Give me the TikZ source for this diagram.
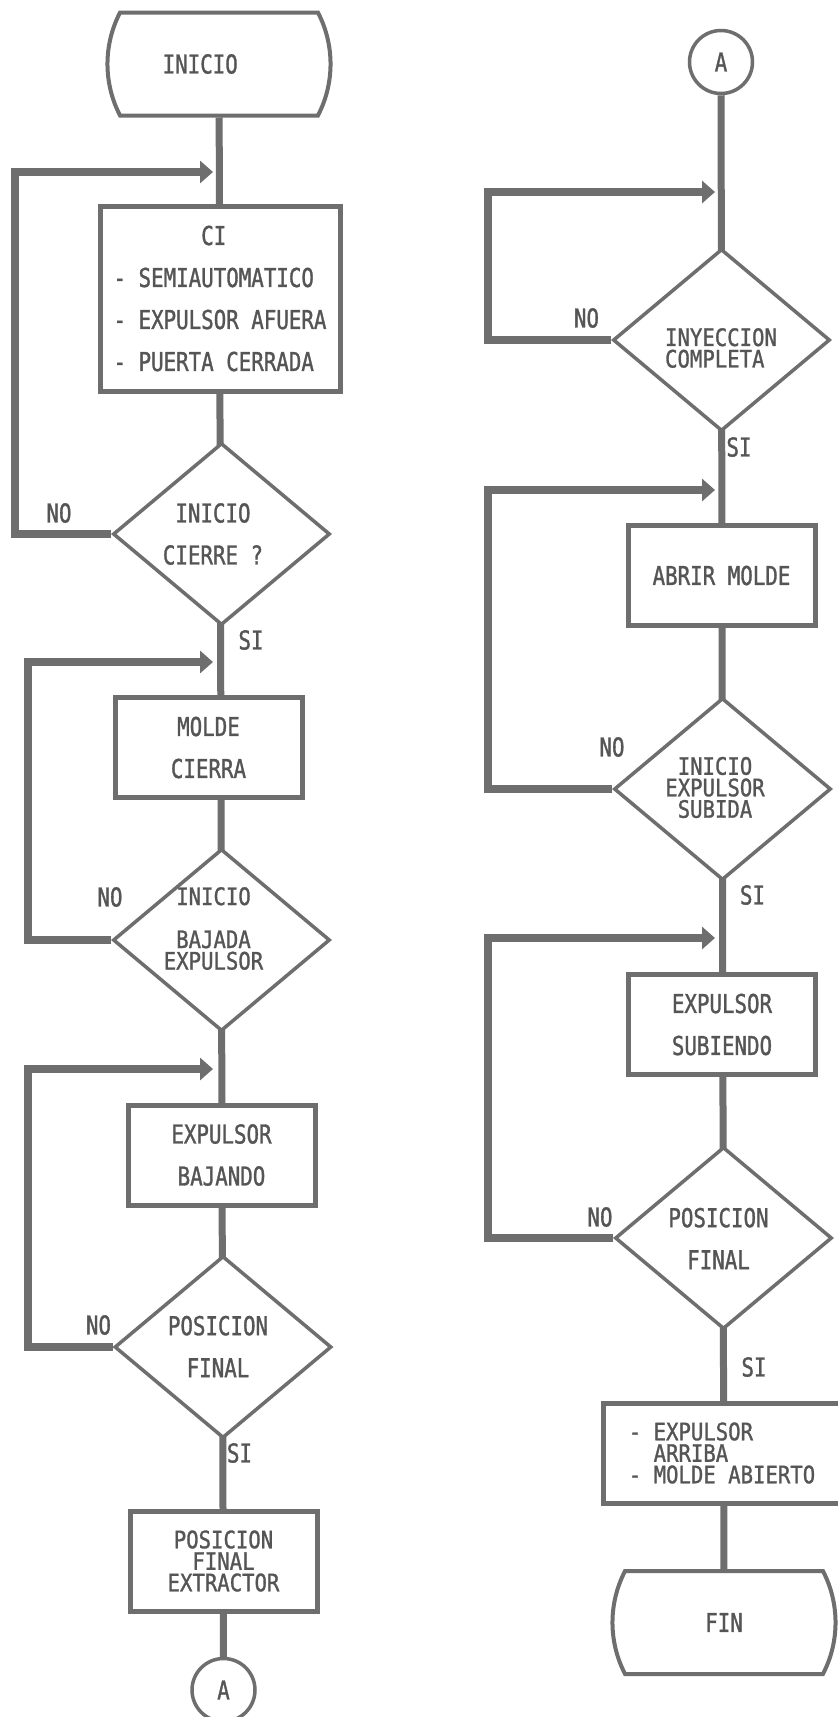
\documentclass[tikz,border=0pt]{standalone}
\usepackage{fontspec}
\usetikzlibrary{positioning,arrows.meta,shapes.geometric,shapes.misc,backgrounds}
\newfontfamily\dotfont[FakeStretch=0.8,FakeBold=1.2]{DejaVu Sans Mono}
\newfontfamily\dotnarrow[FakeStretch=0.86,FakeBold=1.2]{DejaVu Sans Mono}
\definecolor{ink}{HTML}{6E6E6E}
\definecolor{lbl}{HTML}{555555}
\newcommand{\printfont}{\dotfont\fontsize{26}{42}\selectfont}
\newcommand{\printtight}{\dotnarrow\fontsize{24}{21.5}\selectfont}

\begin{document}
\begin{tikzpicture}[x=1pt,y=-1pt,
  every node/.style={text=lbl,font=\printfont},
  term/.style={rounded rectangle,rounded rectangle arc length=55,draw=ink,fill=white,line width=4pt,minimum width=218pt,minimum height=103pt},
  proc/.style={rectangle,draw=ink,fill=white,line width=5pt,minimum width=187pt,minimum height=100pt,align=center,inner sep=0pt},
  dec/.style={diamond,draw=ink,fill=white,line width=3.5pt,minimum width=217pt,minimum height=182pt,inner sep=0pt},
  con/.style={circle,draw=ink,fill=white,line width=3.5pt,minimum size=63pt,inner sep=0pt},
  txt/.style={align=center,inner sep=0pt},
  tight/.style={txt,font=\printtight},
  flow/.style={draw=ink,line width=7pt},
  back/.style={draw=ink,line width=8pt,-{Triangle[length=13pt,width=22pt]}}]
\useasboundingbox (0,0) rectangle (838,1717);
% left column
\node[term] (ini) at (219,64) {INICIO\hphantom{XXX}};
\node[proc,minimum width=240pt,minimum height=185pt,align=left] (ci) at (220,298.5) {\hphantom{XXXXXXX}CI\\- SEMIAUTOMATICO\\- EXPULSOR AFUERA\\- PUERTA CERRADA};
\node[dec] (d1) at (221.5,534) {};
\node[txt] (d1t) at (213,534) {INICIO\\CIERRE ?};
\node[proc] (mc) at (208.5,747.5) {MOLDE\\CIERRA};
\node[dec] (d2) at (221.5,940) {};
\node[tight] (d2t) at (213.5,928.5) {INICIO\\[21.5pt]BAJADA\\EXPULSOR};
\node[proc] (eb) at (221.5,1155) {EXPULSOR\\BAJANDO};
\node[dec] (d3) at (223,1347) {};
\node[txt] (d3t) at (218,1346.5) {POSICION\\FINAL};
\node[proc,font=\printtight] (pf) at (223.5,1561) {POSICION\\FINAL\\EXTRACTOR};
\node[con] (ca) at (223.5,1690) {A};
% right column
\node[con] (cb) at (721,62) {A};
\node[dec] (d4) at (721.5,340) {};
\node[tight,align=left] (d4t) at (721,348) {INYECCION\\COMPLETA};
\node[proc] (am) at (721.5,575.5) {ABRIR MOLDE};
\node[dec] (d5) at (722.5,789) {};
\node[tight] (d5t) at (715,787.5) {INICIO\\EXPULSOR\\SUBIDA};
\node[proc] (es) at (722,1024.5) {EXPULSOR\\SUBIENDO};
\node[dec] (d6) at (723.5,1238) {};
\node[txt] (d6t) at (718.5,1238.5) {POSICION\\FINAL};
\node[proc,minimum width=238pt,align=left,font=\printtight] (fb) at (722,1453) {- EXPULSOR\\\hphantom{XX}ARRIBA\\- MOLDE ABIERTO};
\node[term] (fin) at (724,1622.5) {FIN};
% answers
\node (no1) at (59,513) {NO};
\node (si1) at (251,640) {SI};
\node (no2) at (110,897) {NO};
\node (no3) at (98.5,1325) {NO};
\node (si3) at (239.5,1453) {SI};
\node (no4) at (586.5,318) {NO};
\node (si4) at (739,447) {SI};
\node (no5) at (612,747) {NO};
\node (si5) at (752.5,895) {SI};
\node (no6) at (600,1217) {NO};
\node (si6) at (754,1367) {SI};
\begin{scope}[on background layer]
  \fill[white] (0,0) rectangle (838,1717);
  \draw[flow] (ini) -- (ca);
  \draw[flow] (cb) -- (fin);
\end{scope}
\coordinate (r1) at (213,172);
\coordinate (r2) at (213,662);
\coordinate (r3) at (213,1069);
\coordinate (r4) at (715,192);
\coordinate (r5) at (715,490);
\coordinate (r6) at (715,938);
\foreach \d/\x/\r in {d1/15/r1,d2/28/r2,d3/28/r3,d4/488/r4,d5/488/r5,d6/488/r6}
  \draw[back] (\d.west) -| (\x,0 |- \r) -- (\r);
\end{tikzpicture}
\end{document}
